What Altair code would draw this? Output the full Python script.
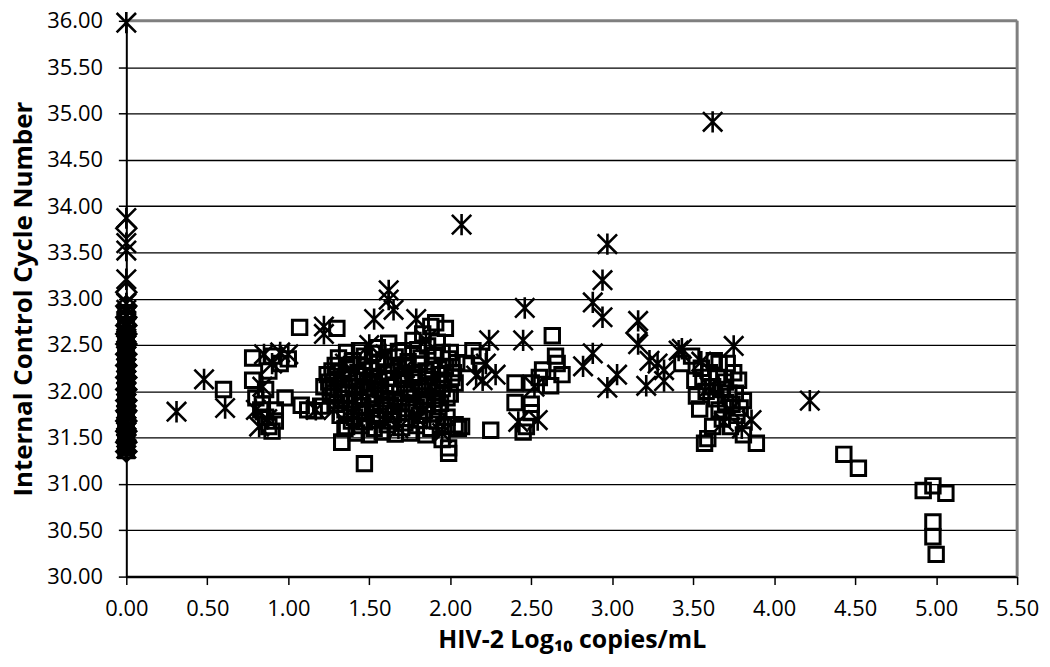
import altair as alt
import pandas as pd

# ---- data ----
sq0_y = [
    31.36, 31.39, 31.41, 31.44, 31.47, 31.49, 31.52, 31.55, 31.57, 31.61, 31.64, 31.66, 31.70, 31.74,
    31.77, 31.79, 31.83, 31.86, 31.88, 31.92, 31.95, 31.97, 32.01, 32.04, 32.06, 32.10, 32.13, 32.15,
    32.19, 32.22, 32.24, 32.28, 32.31, 32.33, 32.37, 32.40, 32.42, 32.46, 32.49, 32.51, 32.56, 32.59,
    32.61, 32.66, 32.69, 32.72, 32.78, 32.82, 32.85,
]
sq_x = [0] * len(sq0_y) + [
    0.60, 0.78, 0.78, 0.80, 0.83, 0.86, 0.88, 0.90, 0.86, 0.90, 0.92, 0.95, 0.88, 1.00, 0.98, 0.84, 0.92,
    1.07, 1.08, 1.12, 1.16, 1.20, 1.22, 1.24, 1.26, 1.28, 1.30, 1.33, 1.35,
    1.55, 1.62, 1.71, 1.77, 1.86, 1.92, 2.00,
    1.83, 1.88, 1.91, 1.97,
    1.31, 1.40, 1.47, 1.59, 1.66, 1.74, 1.82, 1.90, 1.99, 2.04,
    1.27, 1.36, 1.43, 1.51, 1.61, 1.68, 1.78, 1.85, 1.93, 2.02,
    1.25, 1.33, 1.42, 1.49, 1.56, 1.65, 1.72, 1.80, 1.89, 1.96, 2.03,
    1.28, 1.37, 1.44, 1.53, 1.60, 1.69, 1.76, 1.84, 1.92, 2.00,
    1.30, 1.38, 1.46, 1.54, 1.63, 1.70, 1.79, 1.86, 1.94,
    1.32, 1.41, 1.48, 1.57, 1.65, 1.73, 1.81, 1.90, 1.98,
    1.36, 1.45, 1.53, 1.61, 1.70, 1.79, 1.88, 1.96, 2.03,
    1.42, 1.50, 1.58, 1.66, 1.75, 1.85,
    1.36, 1.44, 1.52, 1.68, 1.80, 1.95,
    1.29, 1.39, 1.47, 1.55, 1.64, 1.72, 1.81, 1.89, 1.97,
    1.30, 1.38, 1.46, 1.53, 1.62, 1.70, 1.77, 1.86, 1.94, 2.01,
    1.26, 1.35, 1.40, 1.47, 1.57, 1.63, 1.74, 1.82, 1.87, 1.95,
    1.33, 1.41, 1.50, 1.58, 1.66, 1.74, 1.82, 1.90, 1.98,
    1.35, 1.44, 1.52, 1.60, 1.68, 1.77, 1.84, 1.93,
    1.39, 1.47, 1.55, 1.63, 1.72, 1.81, 1.92,
    1.47, 1.99, 1.99, 2.05, 1.33, 1.95,
    2.14, 2.18, 2.10, 2.25, 2.07,
    2.40, 2.40, 2.50, 2.50, 2.57, 2.65, 2.69, 2.62, 2.63, 2.45, 2.50, 2.47, 2.55, 2.66,
    3.43, 3.49, 3.51, 3.52, 3.54, 3.59, 3.57, 3.66, 3.71, 3.78, 3.81, 3.77, 3.81, 3.89,
    3.60, 3.62, 3.64, 3.66, 3.68, 3.70, 3.72, 3.74, 3.75, 3.58, 3.62, 3.68, 3.73, 3.63,
    3.56, 3.70, 3.65, 3.76, 3.79, 3.55,
    4.43, 4.52, 4.92, 4.98, 5.06, 4.98, 4.98, 5.00,
]
sq_y = sq0_y + [
    32.02, 32.36, 32.12, 31.93, 31.80, 31.72, 31.62, 31.57, 32.02, 32.38, 31.80, 32.30, 32.22, 32.35, 31.93, 31.86, 31.68,
    32.69, 31.85, 31.80, 31.79, 31.84, 32.05, 32.18, 31.95, 32.10, 32.68, 31.45, 31.60,
    32.47, 32.52, 32.44, 32.55, 32.49, 32.53, 32.42,
    32.62, 32.70, 32.74, 32.68,
    32.36, 32.33, 32.38, 32.34, 32.37, 32.32, 32.36, 32.39, 32.35, 32.31,
    32.22, 32.24, 32.20, 32.23, 32.21, 32.25, 32.19, 32.22, 32.24, 32.20,
    32.10, 32.08, 32.12, 32.09, 32.11, 32.07, 32.13, 32.10, 32.08, 32.12, 32.09,
    31.98, 31.97, 32.00, 31.96, 31.99, 31.98, 32.01, 31.95, 31.99, 31.97,
    31.86, 31.88, 31.84, 31.87, 31.85, 31.88, 31.83, 31.86, 31.87,
    31.74, 31.72, 31.76, 31.73, 31.75, 31.71, 31.74, 31.76, 31.72,
    31.62, 31.63, 31.60, 31.64, 31.61, 31.63, 31.60, 31.62, 31.64,
    31.55, 31.53, 31.56, 31.54, 31.55, 31.53,
    32.42, 32.44, 32.41, 32.43, 32.45, 32.42,
    32.28, 32.29, 32.27, 32.30, 32.28, 32.26, 32.29, 32.28, 32.27,
    32.16, 32.15, 32.17, 32.16, 32.14, 32.17, 32.15, 32.16, 32.18, 32.15,
    32.04, 32.03, 32.05, 32.04, 32.02, 32.05, 32.03, 32.04, 32.05, 32.03,
    31.92, 31.91, 31.93, 31.92, 31.90, 31.93, 31.91, 31.92, 31.93,
    31.80, 31.79, 31.81, 31.80, 31.78, 31.81, 31.79, 31.80,
    31.68, 31.67, 31.69, 31.68, 31.66, 31.69, 31.68,
    31.22, 31.39, 31.33, 31.60, 31.45, 31.48,
    32.44, 32.38, 32.30, 31.58, 31.62,
    32.09, 31.88, 31.86, 32.09, 32.23, 32.38, 32.18, 32.06, 32.60, 31.56, 31.77, 31.62, 32.15, 32.30,
    32.30, 32.38, 32.12, 31.95, 31.81, 31.49, 31.44, 32.30, 32.30, 32.12, 31.90, 31.74, 31.53, 31.44,
    32.20, 32.05, 31.92, 31.80, 31.70, 32.10, 31.98, 31.86, 32.20, 32.00, 31.62, 32.02, 31.62, 32.33,
    32.15, 31.88, 32.15, 31.98, 31.82, 32.25,
    31.32, 31.17, 30.93, 30.98, 30.90, 30.59, 30.43, 30.24,
]

st0_y = [
    31.38, 31.44, 31.50, 31.56, 31.62, 31.69, 31.75, 31.81, 31.87, 31.93, 31.99, 32.06, 32.12, 32.19,
    32.25, 32.31, 32.38, 32.44, 32.50, 32.57, 32.63, 32.69, 32.74, 32.81, 32.88, 32.95,
    33.21, 33.52, 33.60, 33.87, 35.98,
]
st_x = [0] * len(st0_y) + [
    0.31, 0.48, 0.61, 0.82, 0.85, 0.90, 0.95, 0.84, 0.80, 1.00, 0.87,
    1.22, 1.22, 1.17, 1.28,
    1.62, 1.62, 1.65, 1.53, 1.79, 1.50, 1.60, 1.68, 1.45, 1.55, 1.72, 1.80, 1.88, 1.40, 1.85, 1.95, 1.35,
    2.07, 2.20, 2.24, 2.16, 2.22, 2.28,
    2.46, 2.45, 2.42, 2.54, 2.82, 2.88, 2.88, 2.94, 2.97, 2.94, 3.03, 2.97, 2.52,
    3.16, 3.16, 3.23, 3.21, 3.32, 3.32, 3.28, 3.43, 3.75, 3.55, 3.69, 3.86, 3.41, 3.62, 4.22, 3.60, 3.73, 3.80,
]
st_y = st0_y + [
    31.78, 32.13, 31.82, 31.62, 32.40, 32.30, 32.42, 32.05, 31.80, 32.40, 31.70,
    32.70, 32.62, 31.80, 31.80,
    33.09, 32.99, 32.88, 32.78, 32.78, 32.50, 32.40, 31.60, 31.95, 32.15, 32.25, 31.70, 32.05, 31.75, 32.55, 31.55, 32.30,
    33.80, 32.12, 32.55, 32.17, 32.30, 32.18,
    32.90, 32.55, 31.67, 31.69, 32.27, 32.41, 32.96, 33.20, 33.59, 32.80, 32.18, 32.04, 32.05,
    32.76, 32.51, 32.33, 32.06, 32.23, 32.11, 32.30, 32.46, 32.49, 32.32, 31.67, 31.69, 32.44, 34.91, 31.90, 32.05, 31.80, 31.60,
]

di0_y = [31.35, 31.45, 31.57, 31.68, 31.79, 31.90, 32.02, 32.15, 32.28, 32.40, 32.51, 32.62, 32.71,
         32.80, 32.92, 33.07, 33.76]
di_x = [0] * len(di0_y) + [3.15]
di_y = di0_y + [32.63]

y_ticks = [30.0, 30.5, 31.0, 31.5, 32.0, 32.5, 33.0, 33.5, 34.0, 34.5, 35.0, 35.5, 36.0]
x_ticks = [0.0, 0.5, 1.0, 1.5, 2.0, 2.5, 3.0, 3.5, 4.0, 4.5, 5.0, 5.5]

sq = pd.DataFrame({"x": sq_x, "y": sq_y})
st = pd.DataFrame({"x": st_x, "y": st_y})
di = pd.DataFrame({"x": di_x, "y": di_y})

FONT = "Open Sans"
ASTERISK = "M-1,-1L1,1M-1,1L1,-1M0,-1.1L0,1.1"

W, H = 896, 559

xscale = alt.Scale(domain=[0, 5.5], nice=False, zero=False)
yscale = alt.Scale(domain=[30, 36], nice=False, zero=False)

xaxis = alt.Axis(values=x_ticks, format=".2f", grid=False, domainColor="black", domainWidth=2.5,
                 tickColor="black", tickSize=8, tickWidth=1.5, labelFont=FONT, labelFontSize=22,
                 labelColor="black", labelPadding=14, labelFlush=False, labelOverlap=False,
                 title="HIV-2 Log₁₀ copies/mL",
                 titleFont=FONT, titleFontSize=25, titleFontWeight="bold", titleColor="black",
                 titlePadding=8)
yaxis = alt.Axis(values=y_ticks, format=".2f", grid=True, gridColor="black", gridWidth=1.3,
                 domainColor="black", domainWidth=2, tickColor="black", tickSize=8, tickWidth=1.5,
                 labelFont=FONT, labelFontSize=22, labelColor="black", labelPadding=16,
                 labelFlush=False, labelOverlap=False,
                 title="Internal Control Cycle Number", titleFont=FONT, titleFontSize=26,
                 titleFontWeight="bold", titleColor="black", titleX=-90, titleY=H / 2)

base_enc = dict(x=alt.X("x:Q", scale=xscale, axis=xaxis), y=alt.Y("y:Q", scale=yscale, axis=yaxis))

top_rule = alt.Chart(pd.DataFrame({"y": [36.0]})).mark_rule(color="#7f7f7f", strokeWidth=3).encode(
    y=alt.Y("y:Q", scale=yscale, axis=yaxis))
right_rule = alt.Chart(pd.DataFrame({"x": [5.5]})).mark_rule(color="#7f7f7f", strokeWidth=3).encode(
    x=alt.X("x:Q", scale=xscale, axis=xaxis))

pts_st = alt.Chart(st).mark_point(shape=ASTERISK, size=380, filled=False, color="black",
                                  strokeWidth=2.6, opacity=1).encode(**base_enc)
pts_di = alt.Chart(di).mark_point(shape="diamond", size=400, filled=False, color="black",
                                  strokeWidth=2.6, opacity=1).encode(**base_enc)
pts_sq = alt.Chart(sq).mark_point(shape="square", size=210, filled=False, color="black",
                                  strokeWidth=3, opacity=1).encode(**base_enc)

chart = alt.layer(top_rule, right_rule, pts_st, pts_di, pts_sq).properties(
    width=W, height=H,
    autosize=alt.AutoSizeParams(type="none"),
    padding={"left": 119, "top": 11, "right": 25, "bottom": 84},
    background="white",
).configure_view(stroke=None)

chart.save("out.html", embed_options={"renderer": "svg", "actions": False})
